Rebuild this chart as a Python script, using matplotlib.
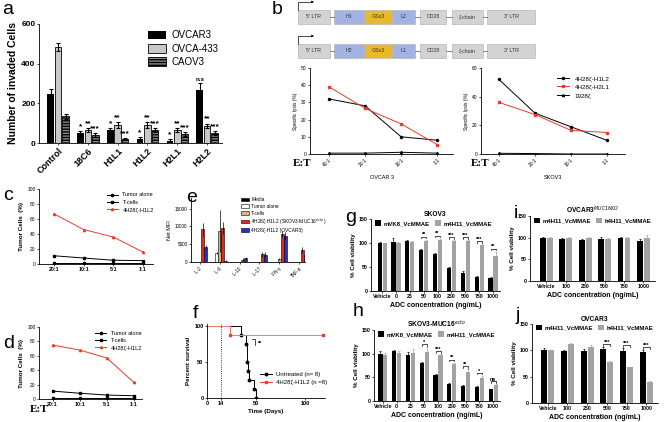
import matplotlib
matplotlib.use("Agg")
import matplotlib.pyplot as plt
from matplotlib.lines import Line2D
import numpy as np

plt.rcParams['font.family'] = ['Liberation Sans', 'DejaVu Sans']
plt.rcParams['axes.linewidth'] = 0.6
plt.rcParams['xtick.major.width'] = 0.5
plt.rcParams['ytick.major.width'] = 0.5
plt.rcParams['xtick.major.size'] = 1.5
plt.rcParams['ytick.major.size'] = 1.5
plt.rcParams['xtick.major.pad'] = 1
plt.rcParams['ytick.major.pad'] = 1

# ---- data ----
# a: invasion
a_groups = ['Control', '18C6', 'H1L1', 'H1L2', 'H2L1', 'H2L2']
a_ovcar3 = [245, 50, 65, 22, 12, 265]
a_ovca433 = [485, 65, 90, 90, 65, 88]
a_caov3 = [135, 40, 18, 65, 45, 50]
a_err3 = [25, 10, 10, 8, 8, 38]
a_err433 = [20, 12, 15, 15, 10, 10]
a_errc = [12, 10, 5, 12, 10, 8]
a_sig3 = ['', '*', '*', '*', '*', 'n.s']
a_sig433 = ['', '**', '**', '**', '**', '**']
a_sigc = ['', '***', '***', '***', '***', '***']

# b: constructs and lysis
construct1 = ["5' LTR", "H1", "GSx3", "L2", "CD28", "ζ-chain", "3' LTR"]
construct2 = ["5' LTR", "H2", "GSx3", "L1", "CD28", "ζ-chain", "3' LTR"]
seg_width = [32, 30, 28, 23, 26, 31, 48]
seg_gap = [4, 0, 0, 5, 6, 4, 0]
seg_color = ['#d3d3d3', '#a3b2e4', '#e9b92c', '#a3b2e4', '#d3d3d3', '#d3d3d3', '#d3d3d3']

et_b = ['40:1', '20:1', '10:1', '1:1']
ovcar_h1l2 = [32, 28, 10, 8]
ovcar_h2l1 = [39, 26.5, 17.5, 5.5]
ovcar_1928 = [0.5, 0.5, 1, 0.5]
skov_h1l2 = [52, 28.5, 19, 9.5]
skov_h2l1 = [36, 27.5, 16.5, 15]
skov_1928 = [0.5, 0.3, 0, 0]

# c, d: tumor cells
et_cd = ['20:1', '10:1', '5:1', '1:1']
c_tumor = [1, 1, 1, 1]
c_tcells = [11, 8, 5, 4.5]
c_car = [67, 46, 36, 16]
d_tumor = [1, 1, 1, 1]
d_tcells = [11, 8, 5.5, 4.5]
d_car = [75, 68, 57, 23]

# e: cytokines
e_cyto = ['IL-2', 'IL-6', 'IL-10', 'IL-17', 'IFN-γ', 'TNF-α']
e_media = [0, 0, 0, 0, 0, 0]
e_tumor = [0, 2600, 0, 0, 0, 0]
e_tcells = [0, 8700, 0, 0, 800, 0]
e_skov = [9200, 9600, 700, 2200, 7900, 3300]
e_ovcar = [4200, 400, 1000, 2000, 7400, 2000]
e_err_tumor = [0, 300, 0, 0, 0, 0]
e_err_tcells = [0, 5800, 0, 0, 300, 0]
e_err_skov = [1800, 1600, 300, 700, 800, 800]
e_err_ovcar = [500, 100, 300, 700, 900, 500]

# f: survival
f_untr_t = [0, 35, 40, 41, 42, 43, 48, 50]
f_untr_s = [100, 87.5, 75, 50, 37.5, 25, 12.5, 0]
f_car_t = [0, 23, 118]
f_car_s = [100, 87.5, 87.5]

# g, h: SKOV3 ADC
gh_conc = ['Vehicle', '0', '25', '50', '100', '250', '500', '750', '1000']
g_mvk8 = [100, 102, 104, 85, 78, 48, 38, 30, 27]
g_m4h11 = [99, 100, 103, 105, 107, 105, 105, 95, 72]
g_err_a = [2, 8, 3, 2, 1, 2, 4, 2, 2]
g_err_b = [2, 3, 2, 2, 2, 1, 1, 3, 10]
g_sig = ['', '', '', '**', '**', '***', '***', '***', '**']
h_mvk8 = [100, 105, 98, 81, 54, 35, 32, 30, 25]
h_m4h11 = [98, 102, 102, 104, 97, 78, 62, 48, 33]
h_err_a = [5, 3, 5, 1, 2, 2, 1, 1, 1]
h_err_b = [3, 4, 8, 10, 2, 3, 5, 5, 3]
h_sig = ['', '', '', '*', '***', '**', '**', '*', 'ns']

# i, j: OVCAR3 ADC
ij_conc = ['Vehicle', '100', '250', '500', '750', '1000']
i_m4h11 = [100, 98, 95, 98, 100, 93]
i_h4h11 = [99, 100, 100, 97, 99, 99]
i_err_a = [2, 2, 2, 3, 1, 4]
i_err_b = [3, 2, 1, 2, 2, 7]
j_m4h11 = [100, 99, 99, 102, 99, 97]
j_h4h11 = [100, 112, 107, 78, 68, 40]
j_err_a = [4, 1, 3, 4, 5, 3]
j_err_b = [1, 2, 3, 2, 1, 1]
j_sig = ['', '', '', '***', '***', '***']

W, H = 669, 422
fig = plt.figure(figsize=(W / 100, H / 100), dpi=100)


def add_ax(x0, y0, x1, y1):
    return fig.add_axes([x0 / W, 1 - y1 / H, (x1 - x0) / W, (y1 - y0) / H])


def ftext(x, y, s, **kw):
    fig.text(x / W, 1 - y / H, s, **kw)


def clean(ax):
    ax.spines['top'].set_visible(False)
    ax.spines['right'].set_visible(False)


RED = '#ea3a2c'
GRAY = '#a3a3a3'

# ---------- a ----------
ax = add_ax(39, 24, 222, 143)
clean(ax)
x = np.arange(len(a_groups))
bw, off = 0.22, 0.25
ax.bar(x - off, a_ovcar3, bw, yerr=a_err3, color='black', ecolor='black',
       error_kw=dict(lw=0.8, capsize=1.5, capthick=0.8), label='OVCAR3')
ax.bar(x, a_ovca433, bw, yerr=a_err433, color='#c8c8c8', edgecolor='black', lw=0.6,
       ecolor='black', error_kw=dict(lw=0.8, capsize=1.5, capthick=0.8), label='OVCA-433')
ax.bar(x + off, a_caov3, bw, yerr=a_errc, color='#8a8a8a', edgecolor='black', lw=0.6,
       hatch='------', ecolor='black', error_kw=dict(lw=0.8, capsize=1.5, capthick=0.8),
       label='CAOV3')
for vals, errs, sigs, o in [(a_ovcar3, a_err3, a_sig3, -off), (a_ovca433, a_err433, a_sig433, 0),
                            (a_caov3, a_errc, a_sigc, off)]:
    for i, (v, e, s) in enumerate(zip(vals, errs, sigs)):
        if s:
            ax.text(i + o, v + e + 5, s, ha='center', va='bottom', fontsize=6 if s != 'n.s' else 4.5,
                    fontweight='bold')
ax.set_xlim(-0.64, 5.5)
ax.set_ylim(0, 600)
ax.set_yticks([0, 200, 400, 600])
ax.set_xticks(x)
ax.set_xticklabels(a_groups, rotation=45, ha='right', rotation_mode='anchor', fontsize=6.5,
                   fontweight='bold')
ax.tick_params(axis='y', labelsize=6)
for t in ax.get_yticklabels():
    t.set_fontweight('bold')
ax.set_ylabel('Number of invaded Cells', fontsize=7.5, fontweight='bold', labelpad=2)
ax.legend(loc='upper right', bbox_to_anchor=(1.03, 1.02), frameon=False, fontsize=7,
          handlelength=1.8, handleheight=1.0, labelspacing=0.35, handletextpad=0.6)

# ---------- b constructs ----------
axc = add_ax(280, 0, 560, 62)
axc.set_xlim(280, 560)
axc.set_ylim(62, 0)
axc.axis('off')
for labels, ytop in [(construct1, 10), (construct2, 44)]:
    xs = 298
    h = 14
    for lab, w, g, col in zip(labels, seg_width, seg_gap, seg_color):
        axc.add_patch(plt.Rectangle((xs, ytop), w, h, facecolor=col, edgecolor='#b8b8b8', lw=0.5))
        axc.text(xs + w / 2, ytop + h / 2, lab, ha='center', va='center', fontsize=3.8, color='#333333')
        if g:
            axc.plot([xs + w, xs + w + g], [ytop + h / 2] * 2, color='#555555', lw=0.5)
        xs += w + g
    axc.plot([298, 298, 311], [ytop, ytop - 8, ytop - 8], color='black', lw=0.5)
    axc.annotate('', xy=(314, ytop - 8), xytext=(309, ytop - 8),
                 arrowprops=dict(arrowstyle='-|>', lw=0.5, color='black', mutation_scale=3))


# ---------- b lysis ----------
def lysis(ax, h1l2, h2l1, c1928, ymax, yt, xlabel, legend):
    clean(ax)
    xx = np.arange(len(et_b))
    ax.plot(xx, h1l2, '-o', color='black', ms=1.5, lw=0.7, label='4H28ζ-H1L2')
    ax.plot(xx, h2l1, '-s', color=RED, ms=1.5, lw=0.7, label='4H28ζ-H2L1')
    ax.plot(xx, c1928, '-^', color='black', ms=1.5, lw=0.7, label='1928ζ')
    ax.set_ylim(0, ymax)
    ax.set_yticks(yt)
    ax.set_xticks(xx)
    ax.set_xticklabels(et_b, rotation=45, ha='right', rotation_mode='anchor', fontsize=3.5)
    ax.tick_params(axis='y', labelsize=3.5)
    ax.set_ylabel('Specific lysis (%)', fontsize=3.5, labelpad=2)
    ax.set_xlabel(xlabel, fontsize=4, labelpad=5)
    if legend:
        ax.legend(loc='upper right', bbox_to_anchor=(0.93, 0.98), frameon=False, fontsize=4.5,
                  handlelength=2, labelspacing=0.5)


ax = add_ax(310, 68, 453, 154)
lysis(ax, ovcar_h1l2, ovcar_h2l1, ovcar_1928, 50, [0, 10, 20, 30, 40, 50], 'OVCAR 3', False)
ax.set_xlim(-0.53, 3.44)
ax = add_ax(481, 68, 625, 154)
lysis(ax, skov_h1l2, skov_h2l1, skov_1928, 60, [0, 20, 40, 60], 'SKOV3', True)
ax.set_xlim(-0.5, 3.5)
for xe in [293, 471]:
    ftext(xe, 163, 'E:T', fontsize=8, fontweight='bold', family='Liberation Serif', va='center')


# ---------- c, d ----------
def tumor(ax, tum, tc, car, xr):
    clean(ax)
    xx = np.arange(len(et_cd))
    ax.plot(xx, tum, '-o', color='black', ms=1.6, lw=0.7, label='Tumor alone')
    ax.plot(xx, tc, '-s', color='black', ms=1.6, lw=0.7, label='T-cells')
    ax.plot(xx, car, '-^', color=RED, ms=1.6, lw=0.7, label='4H28ζ-H1L2')
    ax.set_ylim(0, 100)
    ax.set_yticks([0, 20, 40, 60, 80, 100])
    ax.set_xlim(-0.5, xr)
    ax.set_xticks(xx)
    ax.set_xticklabels(et_cd, fontsize=3.8, fontweight='bold')
    ax.tick_params(axis='y', labelsize=3.5)
    ax.set_ylabel('Tumor Cells  (%)', fontsize=4.5, fontweight='bold', labelpad=2)
    ax.legend(loc='upper right', bbox_to_anchor=(1.05, 1.02), frameon=False, fontsize=4,
              handlelength=2, labelspacing=0.4)


ax = add_ax(39, 189, 153, 264)
tumor(ax, c_tumor, c_tcells, c_car, 3.34)
ax = add_ax(39, 327, 142, 399)
tumor(ax, d_tumor, d_tcells, d_car, 3.3)
ftext(30, 409, 'E:T', fontsize=8, fontweight='bold', family='Liberation Serif', va='center')

# ---------- e ----------
ax = add_ax(191, 198, 305, 262)
clean(ax)
xx = np.arange(len(e_cyto))
ebw = 0.15
ekw = dict(lw=0.5, capsize=0)
ax.bar(xx - 2 * ebw, e_media, ebw, color='black', edgecolor='black', lw=0.4, label='Media')
ax.bar(xx - ebw, e_tumor, ebw, yerr=e_err_tumor, color='white', edgecolor='black', lw=0.4,
       error_kw=ekw, label='Tumor alone')
ax.bar(xx, e_tcells, ebw, yerr=e_err_tcells, color='#d9b77c', edgecolor='black', lw=0.4,
       error_kw=ekw, label='T-cells')
ax.bar(xx + ebw, e_skov, ebw, yerr=e_err_skov, color='#e3281f', edgecolor='black', lw=0.4,
       error_kw=ekw, label='4H28ζ-H1L2 (SKOV3-MUC16$^{ecto}$)')
ax.bar(xx + 2 * ebw, e_ovcar, ebw, yerr=e_err_ovcar, color='#2233cc', edgecolor='black', lw=0.4,
       error_kw=ekw, label='4H28ζ-H1L2 (OVCAR3)')
ax.set_xlim(-0.45, 5.3)
ax.set_ylim(0, 18000)
ax.set_yticks([0, 5000, 10000, 15000])
ax.set_xticks(xx)
ax.set_xticklabels(e_cyto, rotation=45, ha='right', rotation_mode='anchor', fontsize=3.3)
ax.tick_params(axis='y', labelsize=3.3)
ax.set_ylabel('Net MFI', fontsize=4, labelpad=2)
ax.legend(loc='upper left', bbox_to_anchor=(0.4, 1.08), frameon=False, fontsize=3.5,
          handlelength=1.6, handleheight=0.8, labelspacing=0.35, handletextpad=0.5)

# ---------- f ----------
ax = add_ax(207, 324, 325, 398)
clean(ax)
ax.step(f_untr_t, f_untr_s, where='post', color='black', lw=0.7)
ax.plot(f_untr_t[1:], f_untr_s[1:], 'o', color='black', ms=1.8)
ax.step(f_car_t, f_car_s, where='post', color='#f07a70', lw=0.7)
ax.plot(f_car_t[1:], f_car_s[1:], 's', color=RED, ms=1.8)
ax.axvline(14, color='black', ls=':', lw=0.6)
ax.plot([46, 49, 49], [82, 82, 74], color='black', lw=0.5)
ax.text(52, 76, '**', fontsize=4, fontweight='bold', va='center')
ax.set_xlim(0, 120)
ax.set_ylim(0, 103)
ax.set_xticks([0, 14, 50, 100])
ax.set_yticks([0, 50, 100])
ax.tick_params(labelsize=4)
for t in ax.get_xticklabels() + ax.get_yticklabels():
    t.set_fontweight('bold')
ax.set_xlabel('Time (Days)', fontsize=4.5, fontweight='bold', labelpad=2)
ax.set_ylabel('Percent survival', fontsize=4.5, fontweight='bold', labelpad=2)
hs = [Line2D([], [], color='black', marker='o', ms=1.8, lw=0.7),
      Line2D([], [], color=RED, marker='s', ms=1.8, lw=0.7)]
ax.legend(hs, ['Untreated (n= 8)', '4H28ζ-H1L2 (n =8)'], loc='lower left',
          bbox_to_anchor=(0.4, 0.1), frameon=False, fontsize=4.3, handlelength=2, labelspacing=0.5)


# ---------- g, h, i, j ----------
def adc(ax, cats, va, vb, ea, eb, sig, la, lb, title, xl):
    clean(ax)
    xx = np.arange(len(cats))
    w, o = 0.3, 0.18
    ekw = dict(lw=0.5, capsize=1, capthick=0.5)
    ax.bar(xx - o, va, w, yerr=ea, color='black', ecolor='black', error_kw=ekw, label=la)
    ax.bar(xx + o, vb, w, yerr=eb, color=GRAY, ecolor=GRAY, error_kw=ekw, label=lb)
    if sig:
        for i, s in enumerate(sig):
            if s:
                y = max(va[i] + ea[i], vb[i] + eb[i]) + 6
                ax.plot([i - o, i - o, i + o, i + o], [y - 3, y, y, y - 3], color='black', lw=0.5)
                ax.text(i, y - 1, s, ha='center', va='bottom', fontsize=4, fontweight='bold')
    ax.set_ylim(0, 150)
    ax.set_yticks([0, 50, 100, 150])
    ax.set_xlim(*xl)
    ax.set_xticks(xx)
    ax.set_xticklabels(cats, fontsize=3.8, fontweight='bold')
    ax.tick_params(axis='y', labelsize=3.8)
    for t in ax.get_yticklabels():
        t.set_fontweight('bold')
    ax.set_ylabel('% Cell viability', fontsize=4.5, fontweight='bold', labelpad=2)
    ax.set_xlabel('ADC concentration (ng/mL)', fontsize=5, fontweight='bold', labelpad=1.5)
    ax.set_title(title, fontsize=4.8, fontweight='bold', pad=2)
    ax.legend(loc='upper left', bbox_to_anchor=(0.0, 1.04), ncol=2, frameon=False,
              handlelength=1.0, handleheight=1.0, columnspacing=0.9, handletextpad=0.4,
              borderaxespad=0.3, prop=dict(size=4.3, weight='bold'))


ax = add_ax(371, 219, 500, 291)
adc(ax, gh_conc, g_mvk8, g_m4h11, g_err_a, g_err_b, g_sig, 'mVK8_VcMMAE', 'm4H11_VcMMAE',
    'SKOV3', (-0.8, 8.5))
ax = add_ax(374, 330, 500, 401)
adc(ax, gh_conc, h_mvk8, h_m4h11, h_err_a, h_err_b, h_sig, 'mVK8_VcMMAE', 'm4H11_VcMMAE',
    'SKOV3-MUC16$^{ecto}$', (-0.65, 8.5))
ax = add_ax(530, 216, 655, 281)
adc(ax, ij_conc, i_m4h11, i_h4h11, i_err_a, i_err_b, None, 'm4H11_VcMMAE', 'h4H11_VcMMAE',
    'OVCAR3$^{MUC16KO}$', (-0.85, 5.6))
ax = add_ax(532, 324, 658, 403)
adc(ax, ij_conc, j_m4h11, j_h4h11, j_err_a, j_err_b, j_sig, 'm4H11_VcMMAE', 'h4H11_VcMMAE',
    'OVCAR3', (-0.8, 5.6))

# ---------- panel letters ----------
for lab, px, py in [('a', 2, 9), ('b', 272, 9), ('c', 3, 196), ('d', 3, 343), ('e', 186, 197),
                    ('f', 193, 313), ('g', 345, 218), ('h', 353, 312), ('i', 514, 214),
                    ('j', 516, 316)]:
    ftext(px, py, lab, fontsize=14, va='center', ha='left')

fig.savefig('out.png', dpi=100)
